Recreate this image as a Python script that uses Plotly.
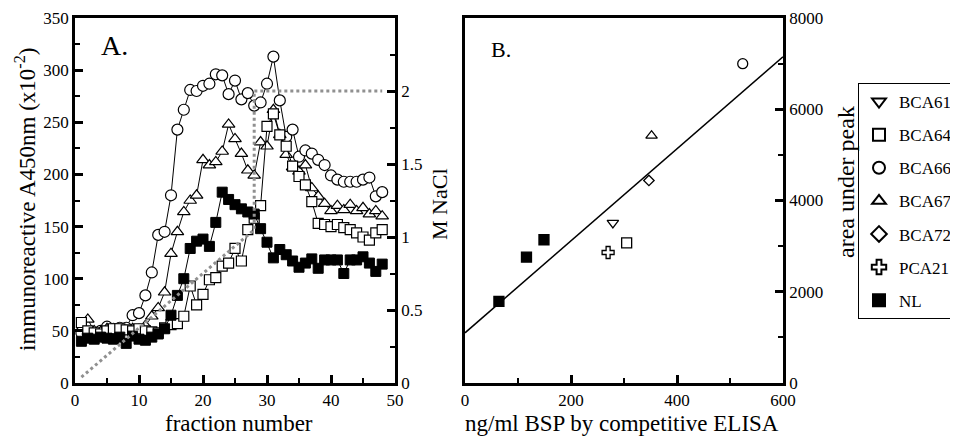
import plotly.graph_objects as go

# ---------------- Panel A data ----------------
fractions = list(range(1, 49))
bca66_a = [48, 47, 48, 50, 54, 52, 53, 53, 65, 67, 84, 106, 142, 145, 180, 243,
           262, 281, 280, 285, 287, 296, 295, 277, 290, 272, 278, 266, 269, 287,
           313, 271, 236, 243, 217, 223, 220, 214, 209, 199, 195, 193, 193, 193,
           195, 197, 179, 183]
bca67_a = [52, 61, 50, 49, 52, 50, 51, 50, 52, 51, 55, 64, 72, 87, 124, 145,
           164, 175, 180, 214, 209, 212, 222, 248, 234, 220, 204, 199, 231, 227,
           262, 238, 219, 207, 203, 209, 187, 179, 172, 165, 170, 166, 171, 165,
           168, 162, 165, 160]
bca64_a = [58, 50, 48, 47, 50, 52, 52, 51, 50, 52, 50, 49, 48, 53, 56, 57,
           64, 93, 75, 85, 99, 101, 112, 115, 129, 117, 147, 158, 170, 246,
           258, 238, 227, 208, 198, 190, 174, 153, 152, 150, 152, 149, 147, 144,
           140, 137, 144, 147]
nl_a = [40, 43, 42, 44, 43, 42, 44, 38, 45, 42, 41, 44, 47, 52, 65, 84,
        100, 129, 136, 138, 131, 154, 183, 176, 171, 167, 164, 162, 148, 135,
        120, 128, 123, 117, 111, 115, 119, 110, 118, 118, 118, 105, 118, 118,
        121, 115, 107, 114]
gradient_fraction = [1, 28, 28, 48]
gradient_nacl = [0.04, 1.05, 2.0, 2.0]

# ---------------- Panel B data ----------------
sample_names = ["BCA61", "BCA64", "BCA66", "BCA67", "BCA72", "PCA21", "NL"]
sample_bsp = [[279], [305], [524], [352], [347], [270], [64, 116, 149]]
sample_area = [[3510], [3070], [7000], [5420], [4440], [2860], [1790, 2760, 3140]]
sample_symbols = ["triangle-down-open", "square-open", "circle-open",
                  "triangle-up-open", "diamond-open", "cross-open", "square"]
sample_sizes = [10, 10, 10, 10, 8, 10, 10]
fit_bsp = [0, 600]
fit_area = [1100, 7150]

# The page body has an 8px margin; work in window pixels and convert.
OFF = 8
W, H = 958 - OFF, 436 - OFF
SERIF = "Liberation Serif, Times New Roman, serif"

def px_x(p):
    return (p - OFF) / W

def px_y(p):
    return 1 - (p - OFF) / H

fig = go.Figure()

series_a = [
    (bca66_a, "circle", 11),
    (bca67_a, "triangle-up", 11),
    (bca64_a, "square", 10),
]
for vals, sym, sz in series_a:
    fig.add_trace(go.Scatter(
        x=fractions, y=vals, mode="lines+markers", xaxis="x", yaxis="y",
        line=dict(color="black", width=1),
        marker=dict(symbol=sym, size=sz, color="white",
                    line=dict(color="black", width=1.2)),
        showlegend=False, hoverinfo="skip"))
fig.add_trace(go.Scatter(
    x=fractions, y=nl_a, mode="lines+markers", xaxis="x", yaxis="y",
    line=dict(color="black", width=1),
    marker=dict(symbol="square", size=10, color="black",
                line=dict(color="black", width=1)),
    showlegend=False, hoverinfo="skip"))
fig.add_trace(go.Scatter(
    x=gradient_fraction, y=gradient_nacl, mode="lines", xaxis="x", yaxis="y2",
    line=dict(color="#909090", width=3, dash="dot"),
    showlegend=False, hoverinfo="skip"))

# Panel B
fig.add_trace(go.Scatter(
    x=fit_bsp, y=fit_area, mode="lines", xaxis="x3", yaxis="y3",
    line=dict(color="black", width=1.5), showlegend=False, hoverinfo="skip"))
for name, xs, ys, sym, sz in zip(sample_names, sample_bsp, sample_area,
                                 sample_symbols, sample_sizes):
    fig.add_trace(go.Scatter(
        x=xs, y=ys, mode="markers", name=name, xaxis="x3", yaxis="y3",
        legendgroup=name,
        marker=dict(symbol=sym, size=sz, color="black",
                    line=dict(color="black", width=1.3)),
        hoverinfo="skip"))

tickfont = dict(family=SERIF, size=17, color="black")
common = dict(showline=True, linecolor="black", linewidth=2.5, ticks="inside",
              ticklen=8, tickwidth=2.5, tickcolor="black", showgrid=False,
              zeroline=False, tickfont=tickfont)
minor_style = dict(ticks="inside", ticklen=5, tickwidth=2, tickcolor="black")

yA = [px_y(383), px_y(18)]
fig.update_layout(
    width=W, height=H, plot_bgcolor="white", paper_bgcolor="white",
    margin=dict(l=0, r=0, t=0, b=0, autoexpand=False),
    font=dict(family=SERIF, color="black"),
    xaxis=dict(domain=[px_x(75), px_x(395)], range=[0, 50], dtick=10,
               mirror=True, anchor="y",
               minor=dict(dtick=5, **minor_style), **common),
    yaxis=dict(domain=yA, range=[0, 350], dtick=50, anchor="x",
               minor=dict(dtick=25, **minor_style), **common),
    yaxis2=dict(overlaying="y", side="right", range=[0, 2.5], anchor="x",
                tickmode="array", tickvals=[0, 0.5, 1, 1.5, 2],
                ticktext=["0", "0.5", "1", "1.5", "2"],
                minor=dict(tickmode="linear", tick0=0, dtick=0.25, **minor_style),
                **common),
    xaxis3=dict(domain=[px_x(465), px_x(783)], range=[0, 600], dtick=200,
                mirror=True, anchor="y3",
                minor=dict(dtick=100, **minor_style), **common),
    yaxis3=dict(domain=yA, range=[0, 8000], dtick=2000, side="right",
                mirror=True, anchor="x3",
                minor=dict(dtick=1000, **minor_style), **common),
    legend=dict(x=px_x(858), y=px_y(83), xanchor="left", yanchor="top",
                bordercolor="black", borderwidth=1, bgcolor="white",
                font=dict(family=SERIF, size=17, color="black"),
                tracegroupgap=8, itemsizing="constant"),
)

def ann(text, x, y, size, angle=0):
    fig.add_annotation(text=text, x=px_x(x), y=px_y(y), xref="paper", yref="paper",
                       showarrow=False, textangle=angle,
                       font=dict(family=SERIF, size=size, color="black"),
                       xanchor="center", yanchor="middle")

ann("immunoreactive A450nm (x10<sup>-2</sup>)", 25, 200, 23, -90)
ann("fraction number", 239, 423, 23)
ann("M NaCl", 440, 204, 22, -90)
ann("ng/ml BSP by competitive ELISA", 622, 423, 23)
ann("area under peak", 846, 182, 24, -90)
ann("A.", 114, 46, 28)
ann("B.", 501, 50, 22)

fig.write_html("out.html")
